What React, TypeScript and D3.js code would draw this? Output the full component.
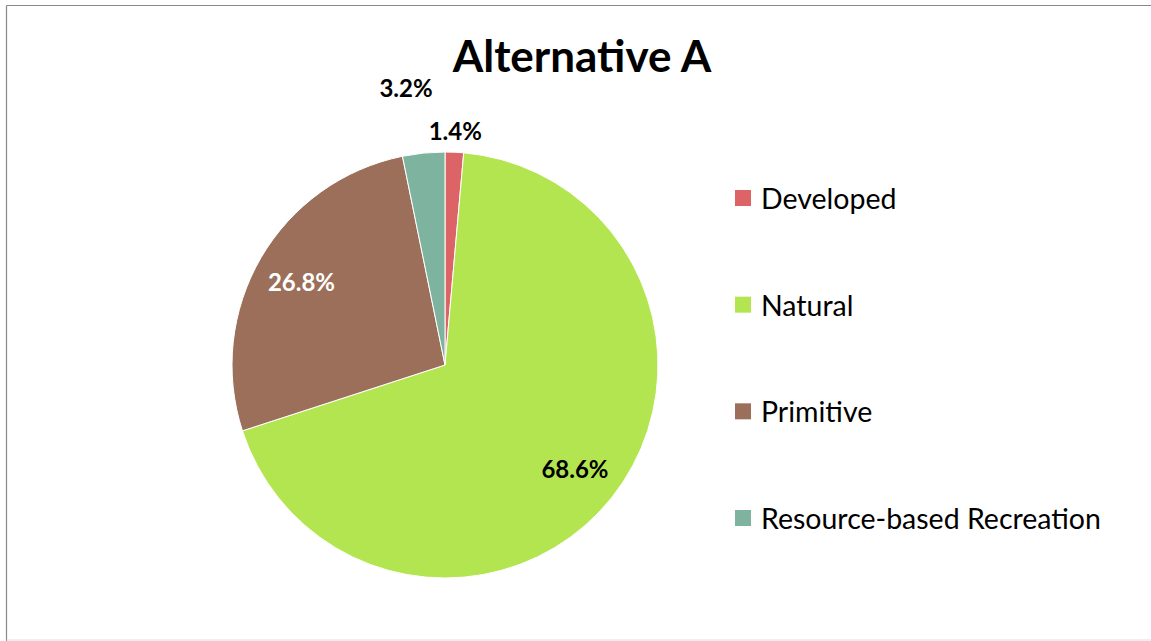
import React from "react";
import * as d3 from "d3";

const categories = ["Developed", "Natural", "Primitive", "Resource-based Recreation"];
const values = [1.4, 68.6, 26.8, 3.2];
const colors = ["#DD6466", "#B3E550", "#9C6F5B", "#7EB3A0"];
const labelColors = ["#000000", "#000000", "#FFFFFF", "#000000"];
const title = "Alternative A";

const W = 1151;
const H = 641;
const cx = 445;
const cy = 365;
const R = 213;
const font = "Lato, 'Open Sans', sans-serif";

export default function App() {
  const pie = d3
    .pie<number>()
    .sort(null)
    .value((d) => d);
  const arcs = pie(values);
  const arc = d3.arc<d3.PieArcDatum<number>>().innerRadius(0).outerRadius(R);

  let outsideCount = 0;
  const labels = arcs.map((a, i) => {
    const mid = (a.startAngle + a.endAngle) / 2;
    const small = a.endAngle - a.startAngle < 0.3;
    let dist = R * 0.78;
    let nudge = 0;
    if (small) {
      dist = R * (1.1 + outsideCount * 0.21);
      nudge = Math.sin(mid) < 0 ? -11 : 0;
      outsideCount++;
    }
    return {
      x: cx + Math.sin(mid) * dist + nudge,
      y: cy - Math.cos(mid) * dist,
      text: values[i].toFixed(1) + "%",
      color: labelColors[i],
    };
  });

  const legendY = d3
    .scalePoint<string>()
    .domain(categories)
    .range([198, 518]);

  return (
    <svg width={W} height={H} style={{ display: "block", position: "absolute", left: 0, top: 0 }}>
      <rect x={0} y={0} width={W} height={H} fill="#fff" />
      <line x1={6.5} y1={5.5} x2={W} y2={5.5} stroke="#888" strokeWidth={1.2} />
      <line x1={6.5} y1={5.5} x2={6.5} y2={H} stroke="#888" strokeWidth={1.2} />
      <line x1={6.5} y1={640} x2={W} y2={640} stroke="#ddd" strokeWidth={1} />
      <text x={582} y={72} textAnchor="middle" fontFamily={font} fontWeight="bold" fontSize={44} fill="#000">
        {title}
      </text>
      <g transform={`translate(${cx},${cy})`}>
        {arcs.map((a, i) => (
          <path key={i} d={arc(a) || ""} fill={colors[i]} stroke="#fff" strokeWidth={1} />
        ))}
      </g>
      {labels.map((l, i) => (
        <text
          key={i}
          x={l.x}
          y={l.y}
          textAnchor="middle"
          dominantBaseline="central"
          fontFamily={font}
          fontWeight="bold"
          fontSize={24}
          fill={l.color}
        >
          {l.text}
        </text>
      ))}
      {categories.map((c, i) => {
        const y = legendY(c) as number;
        return (
          <g key={c}>
            <rect x={735} y={y - 8} width={16} height={16} fill={colors[i]} />
            <text x={761} y={y} dominantBaseline="central" fontFamily={font} fontSize={28.5} fill="#000">
              {c}
            </text>
          </g>
        );
      })}
    </svg>
  );
}
